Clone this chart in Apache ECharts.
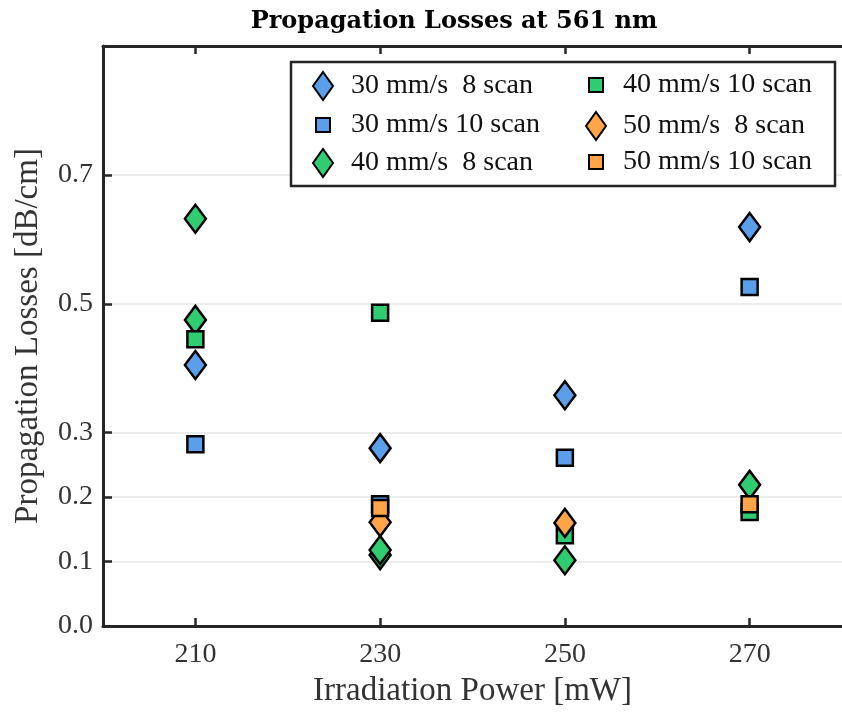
<!DOCTYPE html>
<html>
<head>
    <meta charset="utf-8">
    <title>Propagation Losses</title>
    <script src="https://cdn.jsdelivr.net/npm/echarts@6/dist/echarts.min.js"></script>
</head>
<body style="margin:0">
<div id="main" style="width: 842px;height:713px;"></div>
<script type="text/javascript">
    // values
    const powers = [210, 230, 250, 270];
    const yTicks = [0, 0.1, 0.2, 0.3, 0.5, 0.7];

    const s30_8 = [[210, 0.405], [230, 0.276], [250, 0.358], [270, 0.619]];
    const s30_10 = [[210, 0.282], [230, 0.189], [250, 0.261], [270, 0.526]];
    const s40_8 = [[210, 0.632], [210, 0.475], [230, 0.110], [230, 0.118], [250, 0.102], [270, 0.219]];
    const s40_10 = [[210, 0.445], [230, 0.486], [250, 0.141], [270, 0.177]];
    const s50_8 = [[230, 0.161], [250, 0.160]];
    const s50_10 = [[230, 0.183], [270, 0.189]];

    const names = ['30 mm/s  8 scan', '30 mm/s 10 scan', '40 mm/s  8 scan',
        '40 mm/s 10 scan', '50 mm/s  8 scan', '50 mm/s 10 scan'];

    const blue = '#5b9ee9', green = '#2fcc72', orange = '#ffa447';
    const font = '"Liberation Serif", "DejaVu Serif", serif';
    const dark = '#262626';

    const myChart = echarts.init(document.getElementById('main'));

    function ser(name, data, color, symbol) {
        const dia = symbol === 'diamond';
        return {
            name: name,
            type: 'scatter',
            data: data,
            symbol: symbol,
            symbolSize: dia ? [21, 28] : [16, 16],
            itemStyle: {color: color, borderColor: '#000', borderWidth: 2.5, opacity: 1}
        };
    }

    // one legend per entry so the 3x2 table lines up like the original
    function leg(i, col, row) {
        const dia = names[i].indexOf(' 8 ') > 0;
        const w = dia ? 20 : 14, h = dia ? 28 : 14;
        const cx = col === 0 ? 322 : 595;
        const textX = col === 0 ? 350 : 622;
        const rowY = [85, 125, 162][row];
        return {
            data: [names[i]], left: cx - w / 2, top: rowY - 14,
            itemWidth: w, itemHeight: h, padding: 0, z: 5,
            textStyle: {fontFamily: font, fontSize: 28, lineHeight: 28, color: '#111',
                padding: [0, 0, 0, textX - (cx + w / 2) - 5]}
        };
    }

    const option = {
        animation: false,
        backgroundColor: '#fff',
        title: {
            text: 'Propagation Losses at 561 nm',
            left: 449, top: 5, textAlign: 'center',
            textStyle: {fontFamily: '"DejaVu Serif", serif', fontWeight: 'bold', fontSize: 24, color: '#000'}
        },
        grid: {left: 103, top: 46, right: -11, bottom: 87},
        graphic: [{
            type: 'rect', z: 3,
            shape: {x: 291, y: 62, width: 544, height: 124},
            style: {fill: '#fff', stroke: dark, lineWidth: 2.5}
        }],
        legend: [leg(0, 0, 0), leg(1, 0, 1), leg(2, 0, 2), leg(3, 1, 0), leg(4, 1, 1), leg(5, 1, 2)],
        xAxis: [{
            type: 'value', min: 200, max: 280, interval: 20,
            name: 'Irradiation Power [mW]', nameLocation: 'middle', nameGap: 49,
            nameTextStyle: {fontFamily: font, fontSize: 33, color: '#333'},
            axisLine: {lineStyle: {color: dark, width: 3}},
            axisTick: {inside: true, length: 8, lineStyle: {color: dark, width: 2.5}, customValues: powers},
            axisLabel: {fontFamily: font, fontSize: 28, color: '#333', margin: 15, customValues: powers},
            splitLine: {show: false}
        }, {
            type: 'value', position: 'top', min: 200, max: 280, interval: 20,
            axisLine: {lineStyle: {color: dark, width: 3}},
            axisTick: {inside: true, length: 8, lineStyle: {color: dark, width: 2.5}, customValues: powers},
            axisLabel: {show: false},
            splitLine: {show: false}
        }],
        yAxis: {
            type: 'value', min: 0, max: 0.9,
            name: 'Propagation Losses [dB/cm]', nameLocation: 'middle', nameGap: 58,
            nameTextStyle: {fontFamily: font, fontSize: 33, color: '#333'},
            axisLine: {show: true, lineStyle: {color: dark, width: 3}},
            axisTick: {show: true, inside: true, length: 9, lineStyle: {color: dark, width: 2.5}, customValues: yTicks},
            axisLabel: {fontFamily: font, fontSize: 28, color: '#333', margin: 10,
                customValues: yTicks, formatter: v => v.toFixed(1)},
            splitLine: {show: true, lineStyle: {color: '#ececec', width: 2}}
        },
        series: [
            ser(names[0], s30_8, blue, 'diamond'),
            ser(names[1], s30_10, blue, 'rect'),
            ser(names[2], s40_8, green, 'diamond'),
            ser(names[3], s40_10, green, 'rect'),
            ser(names[4], s50_8, orange, 'diamond'),
            ser(names[5], s50_10, orange, 'rect')
        ]
    };

    myChart.setOption(option);
</script>
</body>
</html>
